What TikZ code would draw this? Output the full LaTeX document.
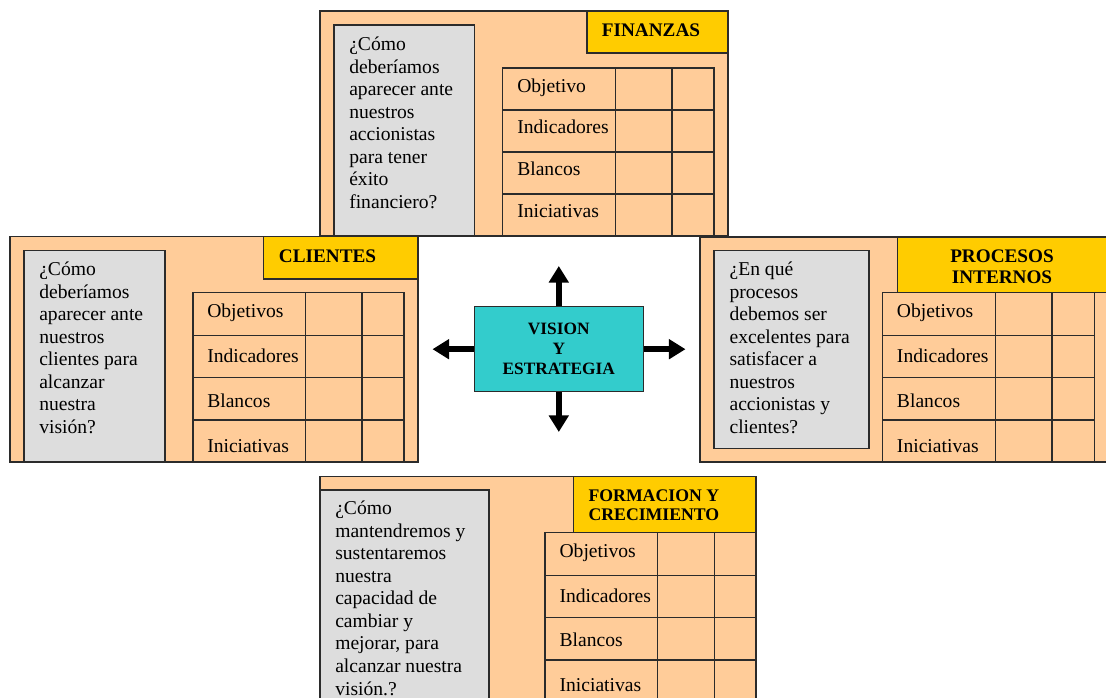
\documentclass[tikz,border=0pt]{standalone}
\usepackage{fontspec}
\setmainfont{Liberation Serif}
\usetikzlibrary{arrows.meta}
\definecolor{peach}{HTML}{FFCC99}
\definecolor{qgray}{HTML}{DDDDDD}
\definecolor{gold}{HTML}{FFCC00}
\definecolor{visioncyan}{HTML}{33CCCC}
\definecolor{edge}{HTML}{2B2B2B}
\begin{document}
\begin{tikzpicture}[x=0.75pt,y=-0.75pt,
  panel/.style={draw=edge,fill=peach,line width=1pt},
  qbox/.style={draw=edge,fill=qgray,line width=1pt},
  hbox/.style={draw=edge,fill=gold,line width=1pt},
  gridline/.style={draw=edge,line width=1.1pt},
  % multi-line texts are placed by the baseline of their last line
  qtext/.style={anchor=base west,inner sep=0pt,align=left,
    font=\fontsize{14.7}{16.9}\selectfont},
  rowtext/.style={anchor=base west,inner sep=0pt,
    font=\fontsize{14.7}{16.9}\selectfont},
  htext/.style={anchor=base,inner sep=0pt,align=center,
    font=\bfseries\fontsize{14.4}{15.75}\selectfont},
  visionbox/.style={draw=edge,fill=visioncyan,line width=1pt,
    minimum width=126.75pt,minimum height=63.75pt,inner sep=0pt,
    align=center,font=\bfseries\fontsize{13}{15}\selectfont},
  bigarrow/.style={line width=4.2pt,-{Triangle[width=14.5pt,length=12.5pt]}}]

\useasboundingbox (0,0) rectangle (1106,698);
\begin{scope}
\clip (0,0) rectangle (1106,698);

% ---------- FINANZAS (top) ----------
\draw[panel] (320,11) rectangle (728,236);
\draw[qbox] (334,25) rectangle (474.7,236);
\draw[hbox] (587,11) rectangle (728,53);
\draw[gridline] (502.7,68) rectangle (714,236);
\foreach \cx in {615.3,672} \draw[gridline] (\cx,68) -- (\cx,236);
\foreach \ry in {110,152,194} \draw[gridline] (502.7,\ry) -- (714,\ry);
\node[htext] (finT) at (651,36.5) {FINANZAS};
\node[qtext] (finQ) at (349,208.5) {¿Cómo\\deberíamos\\aparecer ante\\nuestros\\accionistas\\para tener\\éxito\\financiero?};
\node[rowtext] (finR1) at (517,93) {Objetivo};
\node[rowtext] (finR2) at (517,134) {Indicadores};
\node[rowtext] (finR3) at (517,176) {Blancos};
\node[rowtext] (finR4) at (517,218) {Iniciativas};

% ---------- CLIENTES (left) ----------
\draw[panel] (10,236.7) rectangle (418,462);
\draw[qbox] (24,250.7) rectangle (165,462);
\draw[hbox] (263.7,236.7) rectangle (418,279);
\draw[gridline] (193,292.7) rectangle (404,462);
\foreach \cx in {305.3,362} \draw[gridline] (\cx,292.7) -- (\cx,462);
\foreach \ry in {335.3,377.7,420} \draw[gridline] (193,\ry) -- (404,\ry);
\node[htext] (cliT) at (327.5,262.7) {CLIENTES};
\node[qtext] (cliQ) at (39,433.5) {¿Cómo\\deberíamos\\aparecer ante\\nuestros\\clientes para\\alcanzar\\nuestra\\visión?};
\node[rowtext] (cliR1) at (207,318) {Objetivos};
\node[rowtext] (cliR2) at (207,363) {Indicadores};
\node[rowtext] (cliR3) at (207,407) {Blancos};
\node[rowtext] (cliR4) at (207,452) {Iniciativas};

% ---------- PROCESOS INTERNOS (right) ----------
\draw[panel] (700,237) rectangle (1125,462);
\draw[qbox] (714,250.7) rectangle (869,448.3);
\draw[hbox] (897.3,237) rectangle (1125,292.3);
\draw[gridline] (882.7,292.3) rectangle (1094.3,462);
\foreach \cx in {995.3,1052} \draw[gridline] (\cx,292.3) -- (\cx,462);
\foreach \ry in {335.3,377.7,420} \draw[gridline] (882.7,\ry) -- (1094.3,\ry);
\node[htext] (proT) at (1002,284) {PROCESOS\\INTERNOS};
\node[qtext] (proQ) at (729.3,433.5) {¿En qué\\procesos\\debemos ser\\excelentes para\\satisfacer a\\nuestros\\accionistas y\\clientes?};
\node[rowtext] (proR1) at (896.7,318) {Objetivos};
\node[rowtext] (proR2) at (896.7,363) {Indicadores};
\node[rowtext] (proR3) at (896.7,407) {Blancos};
\node[rowtext] (proR4) at (896.7,452) {Iniciativas};

% ---------- FORMACION Y CRECIMIENTO (bottom) ----------
\draw[panel] (320,476.7) rectangle (756,720);
\draw[qbox] (320,490) rectangle (489,720);
\draw[hbox] (573.3,476.7) rectangle (756,532.3);
\draw[gridline] (545,532.3) rectangle (756,720);
\foreach \cx in {657.7,714.3} \draw[gridline] (\cx,532.3) -- (\cx,720);
\foreach \ry in {575.3,617.7,660,702.4} \draw[gridline] (545,\ry) -- (756,\ry);
\node[htext,anchor=base west,align=left,
  font=\bfseries\fontsize{13.3}{14.25}\selectfont] (forT) at (588.3,520.7) {FORMACION Y\\CRECIMIENTO};
\node[qtext] (forQ) at (335,695) {¿Cómo\\mantendremos y\\sustentaremos\\nuestra\\capacidad de\\cambiar y\\mejorar, para\\alcanzar nuestra\\visión.?};
\node[rowtext] (forR1) at (559.3,557.3) {Objetivos};
\node[rowtext] (forR2) at (559.3,602.3) {Indicadores};
\node[rowtext] (forR3) at (559.3,646.7) {Blancos};
\node[rowtext] (forR4) at (559.3,691.7) {Iniciativas};

% ---------- VISION Y ESTRATEGIA (centre) ----------
\node[visionbox] (vision) at (558.8,349.2) {VISION\\Y\\ESTRATEGIA};
\coordinate (tipN) at (558.8,266);
\coordinate (tipS) at (558.8,432);
\coordinate (tipW) at (432.5,349.2);
\coordinate (tipE) at (685.5,349.2);
\draw[bigarrow] (vision.north) -- (tipN);
\draw[bigarrow] (vision.south) -- (tipS);
\draw[bigarrow] (vision.west) -- (tipW);
\draw[bigarrow] (vision.east) -- (tipE);
\end{scope}
\end{tikzpicture}
\end{document}
